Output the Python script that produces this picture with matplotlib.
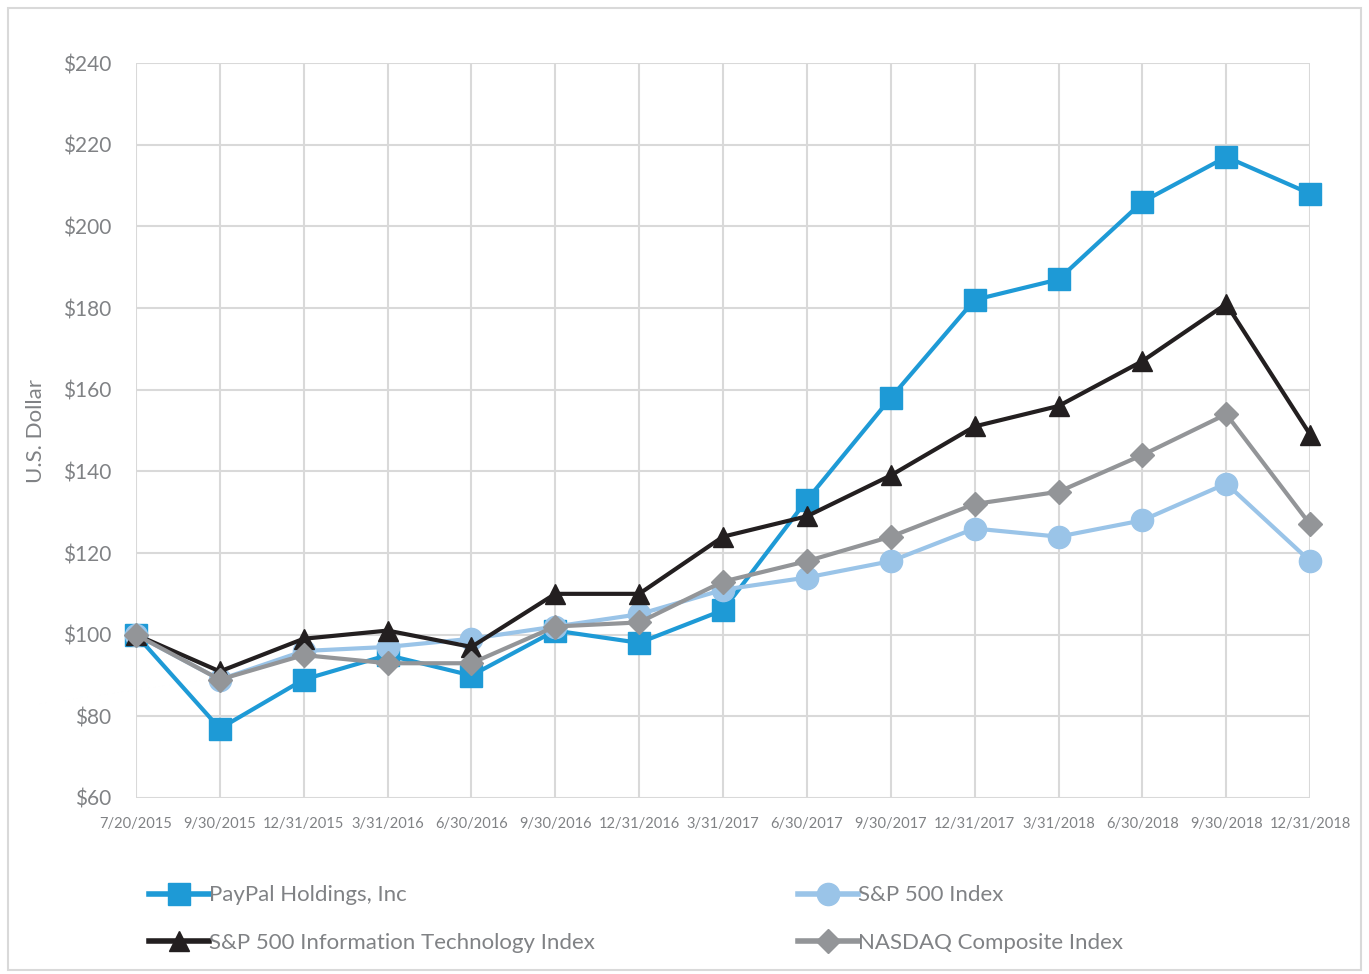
import matplotlib.pyplot as plt
from matplotlib.patches import Rectangle

dates = ['7/20/2015', '9/30/2015', '12/31/2015', '3/31/2016', '6/30/2016', '9/30/2016',
         '12/31/2016', '3/31/2017', '6/30/2017', '9/30/2017', '12/31/2017', '3/31/2018',
         '6/30/2018', '9/30/2018', '12/31/2018']

paypal = [100, 77, 89, 95, 90, 101, 98, 106, 133, 158, 182, 187, 206, 217, 208]
sp500 = [100, 89, 96, 97, 99, 102, 105, 111, 114, 118, 126, 124, 128, 137, 118]
sp_it = [100, 91, 99, 101, 97, 110, 110, 124, 129, 139, 151, 156, 167, 181, 149]
nasdaq = [100, 89, 95, 93, 93, 102, 103, 113, 118, 124, 132, 135, 144, 154, 127]

yticks = list(range(60, 241, 20))

plt.rcParams['font.family'] = ['Lato', 'DejaVu Sans']
txt = '#808285'

fig = plt.figure(figsize=(13.69, 9.74), dpi=100)
fig.patches.append(Rectangle((0.006, 0.004), 0.988, 0.988, transform=fig.transFigure,
                             fill=False, edgecolor='#d9d9d9', linewidth=1.5))
ax = fig.add_axes([0.0993, 0.1807, 0.8577, 0.7546])

x = list(range(len(dates)))
l1, = ax.plot(x, paypal, color='#1e9ad6', lw=3, marker='s', ms=16, label='PayPal Holdings, Inc', zorder=3, clip_on=False)
l2, = ax.plot(x, sp500, color='#9ac4e8', lw=3, marker='o', ms=16, label='S&P 500 Index', zorder=4, clip_on=False)
l3, = ax.plot(x, sp_it, color='#231f20', lw=3, marker='^', ms=15, label='S&P 500 Information Technology Index', zorder=5, clip_on=False)
l4, = ax.plot(x, nasdaq, color='#939598', lw=3, marker='D', ms=12, label='NASDAQ Composite Index', zorder=6, clip_on=False)

ax.set_xlim(0, len(dates) - 1)
ax.set_ylim(60, 240)
ax.set_xticks(x)
ax.set_xticklabels(dates, fontsize=10.5, color=txt)
ax.set_yticks(yticks)
ax.set_yticklabels(['$%d' % v for v in yticks], fontsize=15, color=txt)
ax.tick_params(length=0)
ax.tick_params(axis='x', pad=14)
ax.tick_params(axis='y', pad=18)
ax.grid(True, color='#d9d9d9', lw=1.5)
ax.set_axisbelow(True)
for s in ax.spines.values():
    s.set_visible(False)
ax.set_ylabel('U.S. Dollar', fontsize=16, color=txt, labelpad=12)

leg = fig.legend(handles=[l1, l3, l2, l4], ncol=2, loc='upper left', bbox_to_anchor=(0.102, 0.1),
                 frameon=False, fontsize=16, labelcolor=txt, handlelength=2.7, handletextpad=0.0,
                 columnspacing=9.15, labelspacing=1.25, borderaxespad=0)
for h in leg.legend_handles:
    h.set_linewidth(4)

fig.savefig('out.png', dpi=100)
